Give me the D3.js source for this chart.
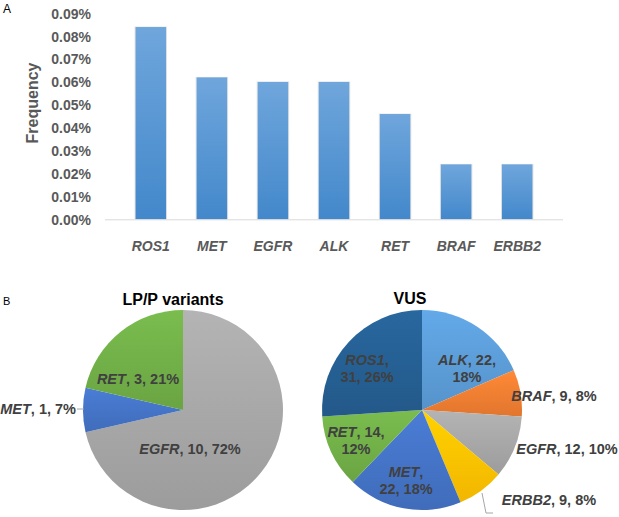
<!DOCTYPE html>
<html><head><meta charset="utf-8">
<script src="https://cdn.jsdelivr.net/npm/d3@7"></script>
<style>
html,body{margin:0;padding:0;background:#fff;}
svg{display:block;font-family:"Liberation Sans",Arial,sans-serif;}
</style></head>
<body>
<script>
// Panel A data (frequency in percent)
const genes = ["ROS1","MET","EGFR","ALK","RET","BRAF","ERBB2"];
const frequency = [0.084, 0.062, 0.060, 0.060, 0.046, 0.024, 0.024];
const yTicks = [0,0.01,0.02,0.03,0.04,0.05,0.06,0.07,0.08,0.09];

// Panel B data
const lpGenes = ["EGFR","MET","RET"];
const lpCounts = [10, 1, 3];
const lpPct = ["72%","7%","21%"];
const lpColors = ["#a5a5a5","#4472c4","#70ad47"];

const vusGenes = ["ALK","BRAF","EGFR","ERBB2","MET","RET","ROS1"];
const vusCounts = [22, 9, 12, 9, 22, 14, 31];
const vusPct = ["18%","8%","10%","8%","18%","12%","26%"];
const vusColors = ["#5b9bd5","#ed7d31","#a5a5a5","#ffc000","#4472c4","#70ad47","#255e91"];

const W = 619, H = 517;
const svg = d3.select("body").append("svg").attr("width", W).attr("height", H);
const defs = svg.append("defs");

// Bar gradient
const bg = defs.append("linearGradient").attr("id","barGrad").attr("x1",0).attr("y1",0).attr("x2",0).attr("y2",1);
bg.append("stop").attr("offset","0%").attr("stop-color","#6fa6dc");
bg.append("stop").attr("offset","100%").attr("stop-color","#4388cb");

const txt = "#595959";

// Panel labels
svg.append("text").attr("x",3).attr("y",13).attr("font-size",12).attr("fill","#000").text("A");
svg.append("text").attr("x",3).attr("y",305).attr("font-size",11).attr("fill","#000").text("B");

// Bar chart
const x = d3.scaleBand().domain(genes).range([105, 563]).padding(0.5);
const y = d3.scaleLinear().domain([0, 0.09]).range([219.3, 13.3]);

const gBars = svg.append("g");
gBars.selectAll("rect.shadow").data(genes).join("rect")
  .attr("x", d => x(d) - 1).attr("width", x.bandwidth() + 2)
  .attr("y", (d,i) => y(frequency[i]) - 0.5)
  .attr("height", (d,i) => y(0) - y(frequency[i]) + 0.5)
  .attr("fill", "#e4e4e4");
gBars.selectAll("rect.bar").data(genes).join("rect")
  .attr("x", d => x(d)).attr("width", x.bandwidth())
  .attr("y", (d,i) => y(frequency[i]))
  .attr("height", (d,i) => y(0) - y(frequency[i]))
  .attr("fill", "url(#barGrad)");

// baseline
svg.append("line").attr("x1",105).attr("x2",563).attr("y1",y(0)+0.5).attr("y2",y(0)+0.5)
  .attr("stroke","#d9d9d9").attr("stroke-width",1);

// y axis
const yAxis = d3.axisLeft(y).tickValues(yTicks).tickSize(0).tickPadding(0)
  .tickFormat(d => d3.format(".2f")(d) + "%");
const gy = svg.append("g").attr("transform","translate(91,0)").call(yAxis);
gy.select(".domain").remove();
gy.selectAll("text").attr("font-size",14).attr("font-weight","bold").attr("fill",txt)
  .attr("font-family","Liberation Sans, Arial, sans-serif").attr("dy","0.35em");

// x axis
const xAxis = d3.axisBottom(x).tickSize(0).tickPadding(0);
const gx = svg.append("g").attr("transform","translate(0,251)").call(xAxis);
gx.select(".domain").remove();
gx.selectAll("text").attr("font-size",14).attr("font-weight","bold").attr("font-style","italic")
  .attr("fill",txt).attr("dy",0).attr("font-family","Liberation Sans, Arial, sans-serif");

svg.append("text").attr("transform","translate(38,103) rotate(-90)")
  .attr("text-anchor","middle").attr("font-size",16).attr("font-weight","bold").attr("fill",txt)
  .text("Frequency");

// Pie helper
function pieGrad(id, color) {
  const g = defs.append("linearGradient").attr("id", id).attr("x1",0).attr("y1",0).attr("x2",0).attr("y2",1);
  const c = d3.color(color);
  g.append("stop").attr("offset","0%").attr("stop-color", c.brighter(0.25));
  g.append("stop").attr("offset","100%").attr("stop-color", c.darker(0.15));
}

function addLabel(g, lines, cx, cy, anchor) {
  const t = g.append("text").attr("text-anchor", anchor || "middle")
    .attr("font-size",14.5).attr("font-weight","bold").attr("fill","#404040");
  lines.forEach((parts, li) => {
    parts.forEach((p, pi) => {
      const ts = t.append("tspan").text(p[0]);
      if (p[1]) ts.attr("font-style","italic");
      if (pi === 0) ts.attr("x", cx).attr("y", cy + li*17);
    });
  });
}

const pie = d3.pie().sort(null).value(d => d);
const arc = d3.arc().innerRadius(0).outerRadius(100);

// LP/P pie
const cx1 = 183, cy1 = 410;
svg.append("text").attr("x",173).attr("y",305).attr("text-anchor","middle")
  .attr("font-size",16).attr("font-weight","bold").attr("fill","#000").text("LP/P variants");
lpColors.forEach((c,i) => pieGrad("lp"+i, c));
const g1 = svg.append("g").attr("transform",`translate(${cx1},${cy1})`);
g1.selectAll("path").data(pie(lpCounts)).join("path")
  .attr("d", arc).attr("fill", (d,i) => `url(#lp${i})`);

const gl1 = svg.append("g");
addLabel(gl1, [[["EGFR",true],[", "+lpCounts[0]+", "+lpPct[0],false]]], 190, 454);
addLabel(gl1, [[["RET",true],[", "+lpCounts[2]+", "+lpPct[2],false]]], 138, 384);
addLabel(gl1, [[["MET",true],[", "+lpCounts[1]+", "+lpPct[1],false]]], 76, 414, "end");
gl1.append("line").attr("x1",77).attr("x2",84).attr("y1",409).attr("y2",409)
  .attr("stroke","#a6a6a6").attr("stroke-width",1);

// VUS pie
const cx2 = 422, cy2 = 410;
svg.append("text").attr("x",410).attr("y",304).attr("text-anchor","middle")
  .attr("font-size",16).attr("font-weight","bold").attr("fill","#000").text("VUS");
vusColors.forEach((c,i) => pieGrad("vus"+i, c));
const g2 = svg.append("g").attr("transform",`translate(${cx2},${cy2})`);
g2.selectAll("path").data(pie(vusCounts)).join("path")
  .attr("d", arc).attr("fill", (d,i) => `url(#vus${i})`);

const gl2 = svg.append("g");
addLabel(gl2, [[["ROS1",true],[",",false]],[[vusCounts[6]+", "+vusPct[6],false]]], 367, 365);
addLabel(gl2, [[["ALK",true],[", "+vusCounts[0]+",",false]],[[vusPct[0],false]]], 467, 365);
addLabel(gl2, [[["BRAF",true],[", "+vusCounts[1]+", "+vusPct[1],false]]], 554, 401);
addLabel(gl2, [[["EGFR",true],[", "+vusCounts[2]+", "+vusPct[2],false]]], 567, 454);
addLabel(gl2, [[["ERBB2",true],[", "+vusCounts[3]+", "+vusPct[3],false]]], 549, 505);
addLabel(gl2, [[["MET",true],[",",false]],[[vusCounts[4]+", "+vusPct[4],false]]], 406, 477);
addLabel(gl2, [[["RET",true],[", "+vusCounts[5]+",",false]],[[vusPct[5],false]]], 356, 437);
gl2.append("polyline").attr("points","482,493 486,513 493,513")
  .attr("fill","none").attr("stroke","#a6a6a6").attr("stroke-width",1);
</script>
</body></html>
